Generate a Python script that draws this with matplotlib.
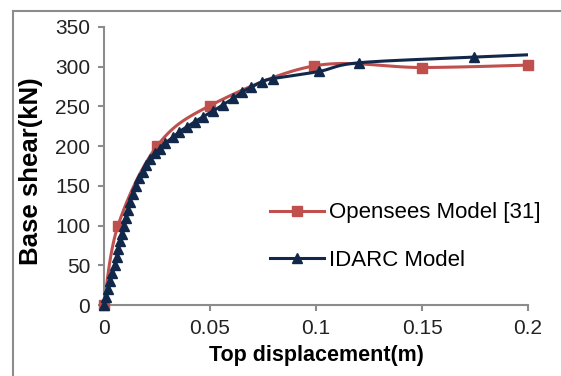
import numpy as np
import matplotlib.pyplot as plt
from matplotlib.lines import Line2D

plt.rcParams['font.family'] = ['Liberation Sans', 'DejaVu Sans']

# Opensees Model [31]
ops_disp = [0.0, 0.0066, 0.025, 0.050, 0.099, 0.150, 0.200]
ops_shear = [0, 100, 200, 251, 301, 299, 302]

# IDARC Model (last point is the line end, no marker)
idarc_disp = [0.0, 0.001, 0.002, 0.003, 0.004, 0.005, 0.006, 0.0068, 0.0076,
              0.0084, 0.0093, 0.0102, 0.0112, 0.0123, 0.0136, 0.015, 0.0165,
              0.0182, 0.0198, 0.0217, 0.024, 0.0264, 0.029, 0.0325, 0.0354,
              0.039, 0.043, 0.0467, 0.0514, 0.056, 0.061, 0.065, 0.0693,
              0.0745, 0.0797, 0.1014, 0.1203, 0.1745, 0.200]
idarc_shear = [0, 10, 20, 30, 40, 50, 60, 70, 80, 90, 100, 110, 120, 130, 140,
               150, 160, 168, 176, 184, 191, 197, 204, 211, 218, 224, 231, 237,
               244, 252, 260, 268, 274, 281, 285, 294, 305, 312, 315]

x_ticks = [0, 0.05, 0.1, 0.15, 0.2]
x_labels = ['0', '0.05', '0.1', '0.15', '0.2']
y_ticks = [0, 50, 100, 150, 200, 250, 300, 350]

red = '#c0504d'
navy = '#12284a'
grey = '#8c8c8c'


def smooth(xs, ys, n=20):
    # Catmull-Rom path through the points, like Excel's smoothed line
    x = np.asarray(xs, float)
    y = np.asarray(ys, float)
    px = np.concatenate([[x[0]], x, [x[-1]]])
    py = np.concatenate([[y[0]], y, [y[-1]]])
    t = np.linspace(0, 1, n)[:, None]
    out_x, out_y = [], []
    for i in range(1, len(px) - 2):
        for arr, out in ((px, out_x), (py, out_y)):
            p0, p1, p2, p3 = arr[i - 1], arr[i], arr[i + 1], arr[i + 2]
            seg = 0.5 * ((2 * p1) + (-p0 + p2) * t
                         + (2 * p0 - 5 * p1 + 4 * p2 - p3) * t ** 2
                         + (-p0 + 3 * p1 - 3 * p2 + p3) * t ** 3)
            out.extend(seg.ravel())
    return out_x, out_y


fig = plt.figure(figsize=(5.61, 3.76), dpi=100)
ax = fig.add_axes([0.1854, 0.1888, 0.7558, 0.7394])

sx, sy = smooth(ops_disp, ops_shear)
ax.plot(sx, sy, color=red, lw=2.2, zorder=2)
ax.plot(ops_disp, ops_shear, ls='none', marker='s', ms=7.5, color=red,
        zorder=3, clip_on=False)

ix, iy = smooth(idarc_disp, idarc_shear)
ax.plot(ix, iy, color=navy, lw=2.2, zorder=4)
ax.plot(idarc_disp[:-1], idarc_shear[:-1], ls='none', marker='^', ms=7.5,
        color=navy, zorder=5, clip_on=False)

ax.set_xlim(0, 0.2)
ax.set_ylim(0, 350)
ax.set_xticks(x_ticks)
ax.set_xticklabels(x_labels)
ax.set_yticks(y_ticks)
for s in ['top', 'right']:
    ax.spines[s].set_visible(False)
for s in ['left', 'bottom']:
    ax.spines[s].set_color(grey)
    ax.spines[s].set_linewidth(1.5)
ax.tick_params(colors=grey, width=1.5, length=4, labelsize=15,
               labelcolor='#222222')
ax.tick_params(axis='x', pad=6)
ax.tick_params(axis='y', pad=6)
ax.set_xlabel('Top displacement(m)', fontsize=15.5, fontweight='bold',
              labelpad=5)
ax.set_ylabel('Base shear(kN)', fontsize=18.5, fontweight='bold')
ax.yaxis.set_label_coords(-0.145, 0.482)

handles = [Line2D([], [], color=red, lw=2.2, marker='s', ms=7.5),
           Line2D([], [], color=navy, lw=2.2, marker='^', ms=7.5)]
ax.legend(handles, ['Opensees Model [31]', 'IDARC Model'], frameon=False,
          fontsize=16, loc='center left', bbox_to_anchor=(0.345, 0.246),
          handlelength=2.4, handletextpad=0.25, labelspacing=1.2)

# outer chart frame (only top and left edges visible)
fig.add_artist(Line2D([13 / 561, 13 / 561], [0, 1 - 11 / 376],
                      transform=fig.transFigure, color=grey, lw=1.5))
fig.add_artist(Line2D([13 / 561, 1], [1 - 11 / 376, 1 - 11 / 376],
                      transform=fig.transFigure, color=grey, lw=1.5))

fig.savefig('out.png', dpi=100)
